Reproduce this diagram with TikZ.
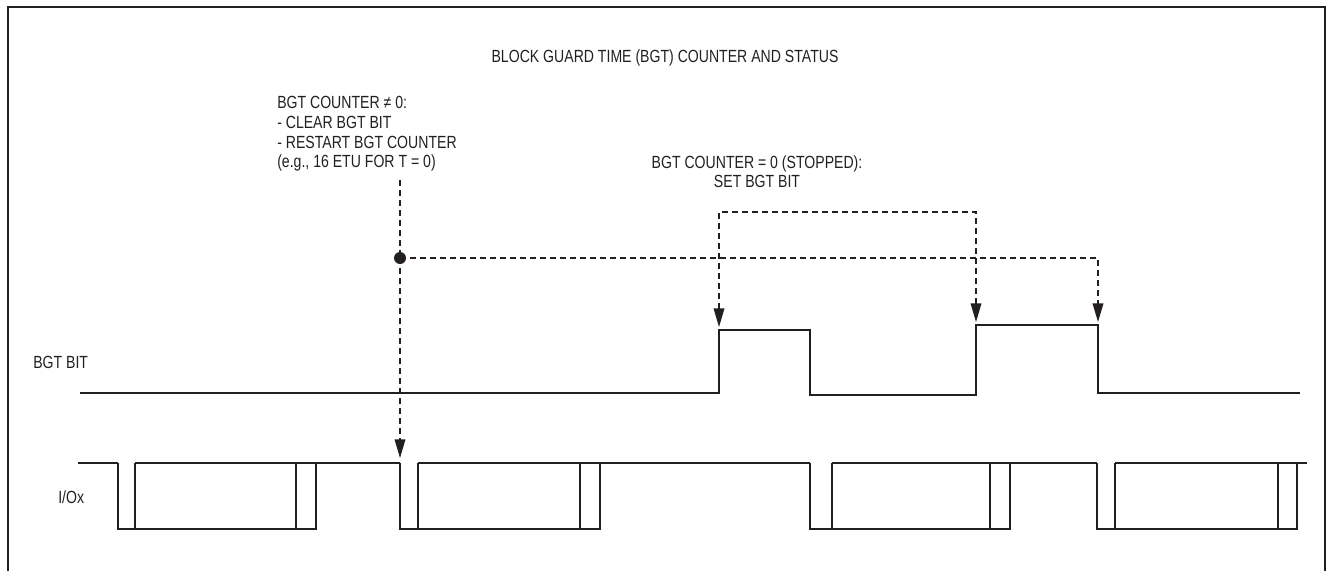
\documentclass[tikz,border=0pt]{standalone}
\usepackage{fontspec}
\setmainfont{Liberation Sans}[FakeStretch=0.8]
\usetikzlibrary{arrows.meta}
\definecolor{strich}{RGB}{35,31,32}
\tikzset{
  beschrift/.style={font=\fontsize{13.2}{14.8}\selectfont, inner sep=0pt},
  welle/.style={line width=1.1pt, line join=miter},
  hinweis/.style={line width=1pt, dash pattern=on 4.5pt off 3pt},
}

\begin{document}
\begin{tikzpicture}[x=0.75pt, y=-0.75pt, strich, >={Triangle[length=14pt,width=8pt]}]

	\useasboundingbox (0,0) rectangle (1333,571);
	\draw[line width=1.6pt] (8,571) -- (8,7) -- (1325,7) -- (1325,571);

	% texts
	\node[beschrift] (titel) at (665,58) {BLOCK GUARD TIME (BGT) COUNTER AND STATUS};
	\node[beschrift, anchor=north west, align=left] (zaehler-laeuft) at (277,96)
		{BGT COUNTER ≠ 0:\\- CLEAR BGT BIT\\- RESTART BGT COUNTER\\(e.g., 16 ETU FOR T = 0)};
	\node[beschrift, anchor=north, align=center] (zaehler-steht) at (757,155)
		{BGT COUNTER = 0 (STOPPED):\\SET BGT BIT};
	\node[beschrift, anchor=west] (bgt-name) at (33,362) {BGT BIT};
	\node[beschrift, anchor=west] (io-name) at (58,497) {I/Ox};

	% BGT bit
	\draw[welle] (80,393) -- (719,393) -- (719,330) -- (810,330) -- (810,395) -- (976,395)
		-- (976,325) -- (1098,325) -- (1098,393) -- (1300,393);

	% I/Ox characters
	\draw[welle] (78,463) -- (118,463);
	\foreach \s/\d/\p/\e in {118/135/296/316, 400/418/580/600, 810/832/990/1010, 1097/1115/1278/1297}{
		\draw[welle] (\s,463) -- (\s,529) -- (\e,529) -- (\e,463);
		\draw[welle] (\d,463) -- (\d,529);
		\draw[welle] (\p,463) -- (\p,529);
	}
	\foreach \a/\b in {135/400, 418/810, 832/1097, 1115/1307}
		\draw[welle] (\a,463) -- (\b,463);

	% markers
	\coordinate (knoten) at (400,258);
	\coordinate (knoten-oben) at (400,180);
	\coordinate (io-flanke) at (400,458);
	\coordinate (puls1) at (719,327);
	\coordinate (puls2) at (976,322);
	\coordinate (puls2-ende) at (1098,322);
	\draw[hinweis] (knoten-oben) -- (knoten);
	\draw[hinweis, ->] (knoten) -- (io-flanke);
	\draw[hinweis, ->] (knoten) -| (puls2-ende);
	\draw[hinweis, <->] (puls1) -- (719,212) -| (puls2);
	\fill (knoten) circle[radius=6];

\end{tikzpicture}
\end{document}
